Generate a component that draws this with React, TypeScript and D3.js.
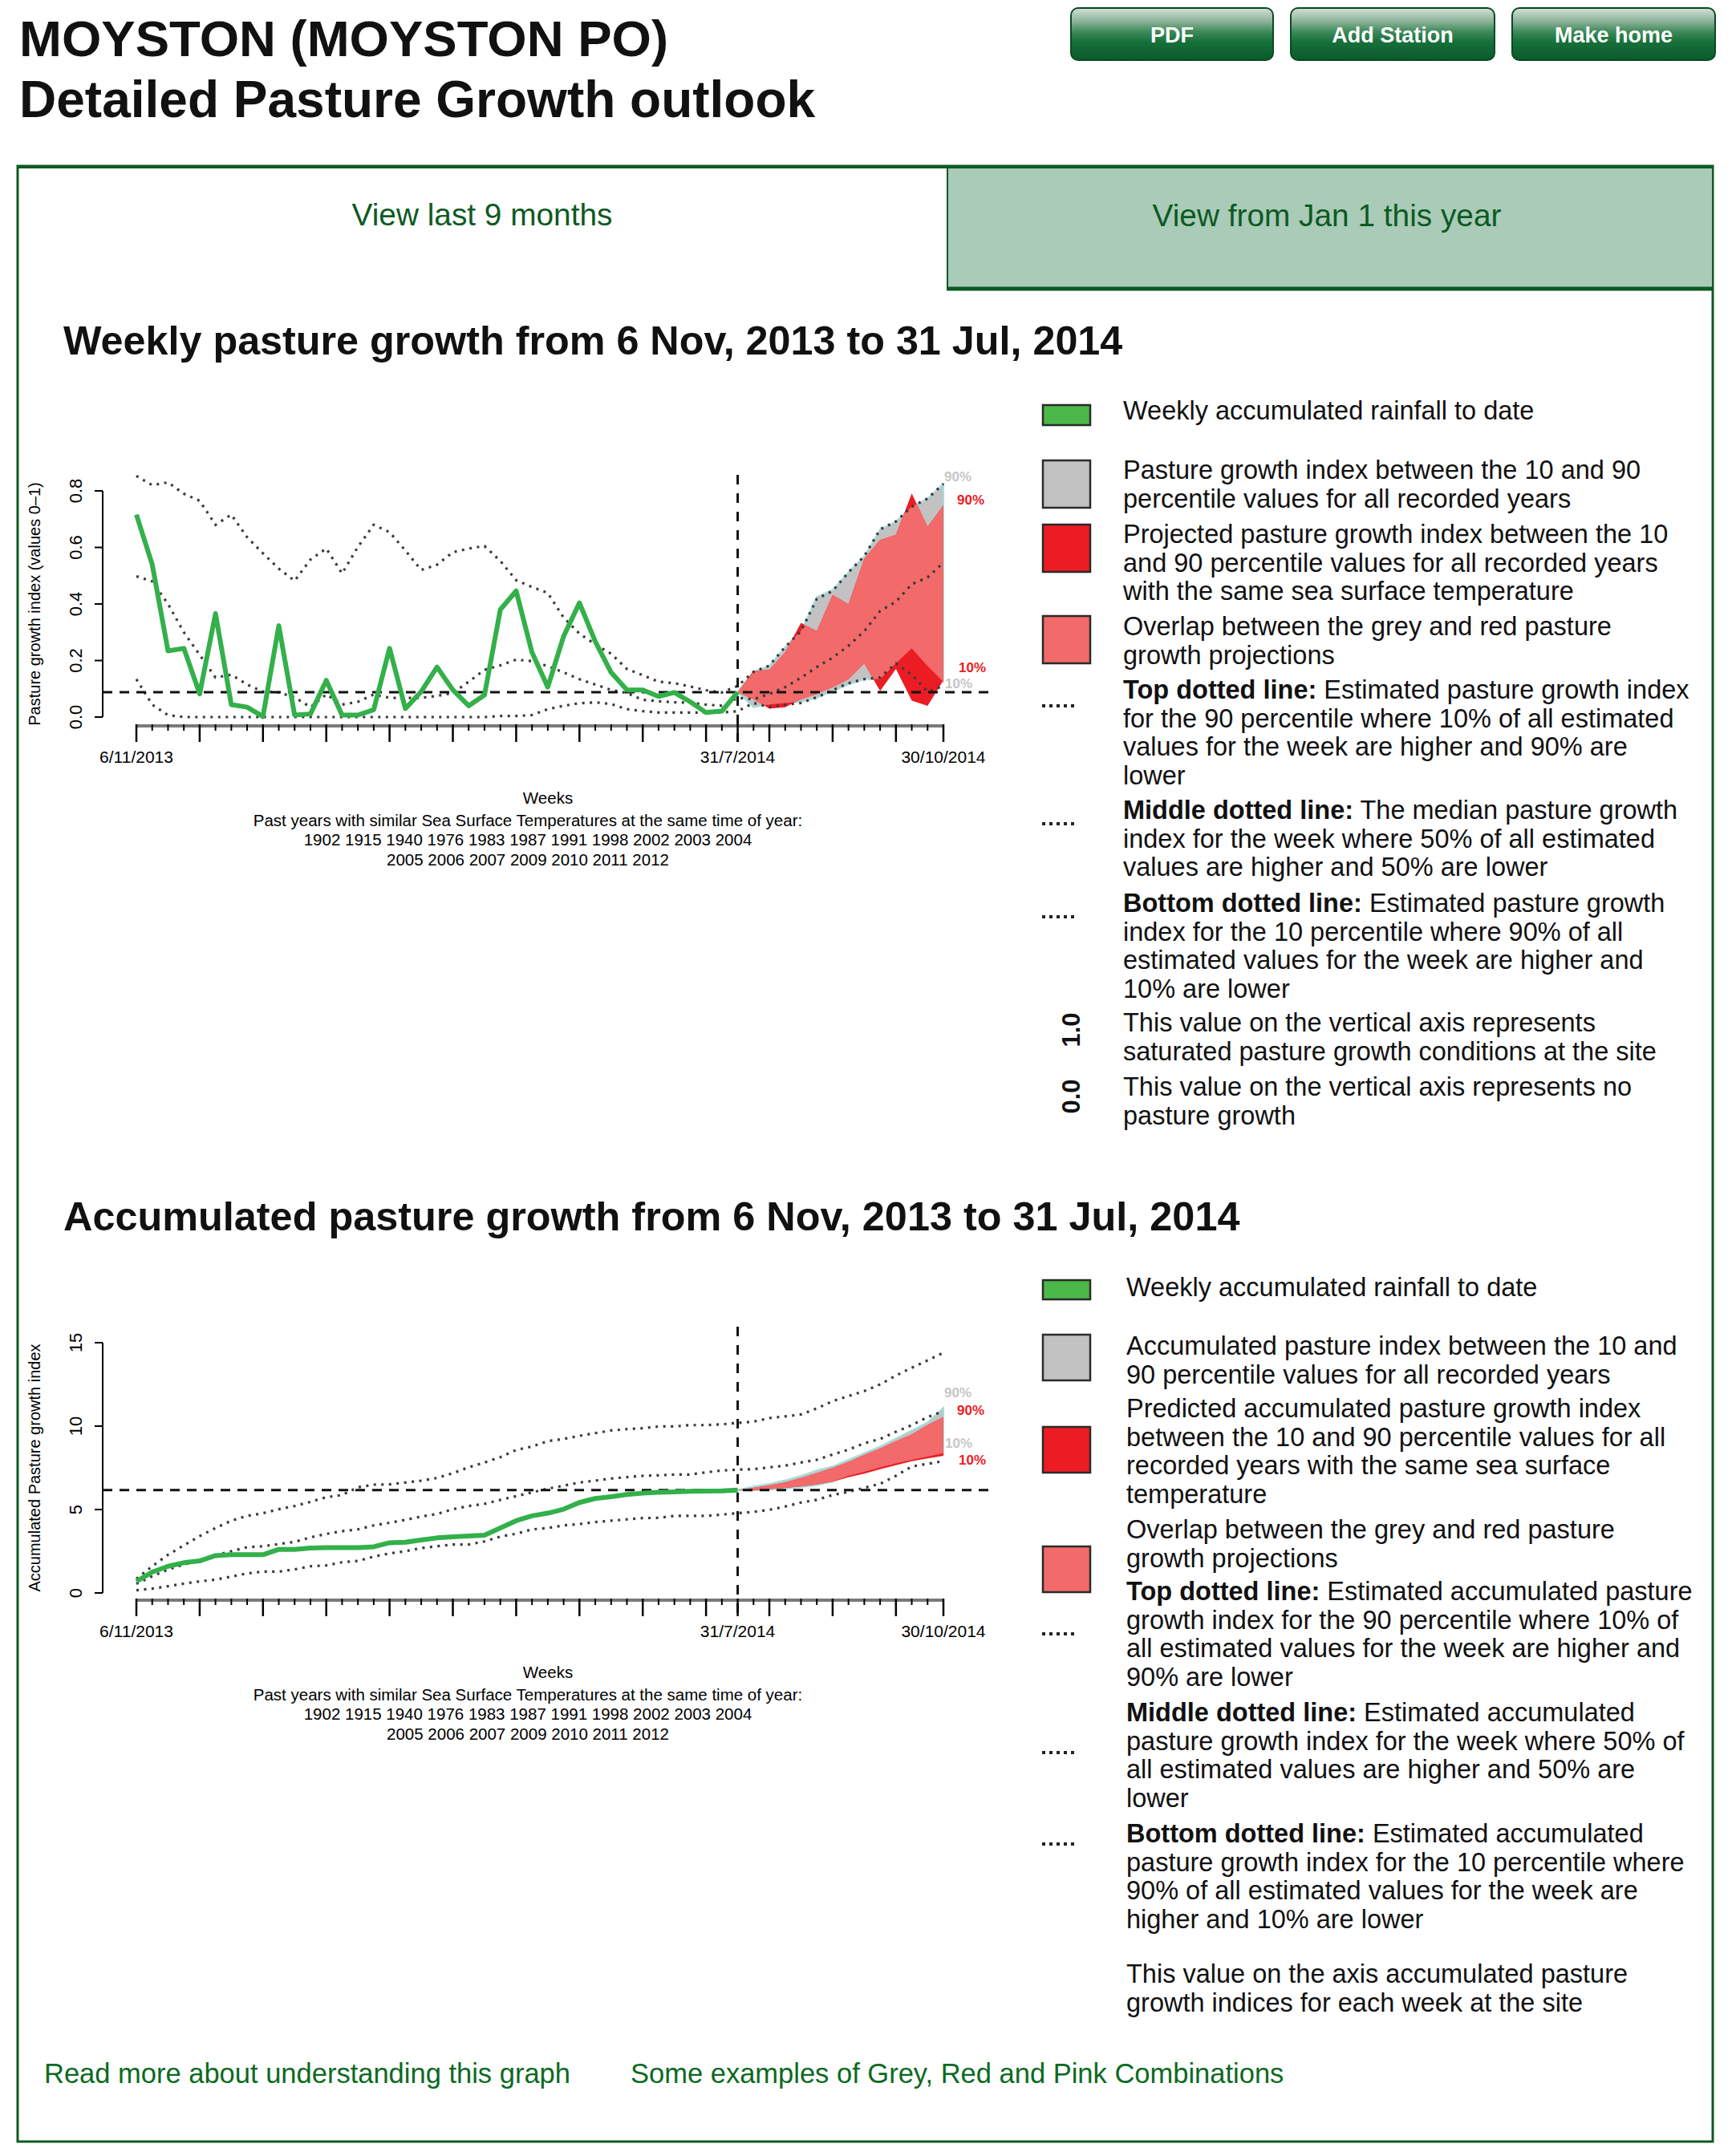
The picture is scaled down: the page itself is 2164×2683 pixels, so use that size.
import React from "react";
import * as d3 from "d3";

const FONT = "'Liberation Sans', Arial, Helvetica, sans-serif";

// x categories: week 0 = 6/11/2013, week 38 = 31/7/2014, week 51 = 30/10/2014
const dateTicks = [
  { week: 0, label: "6/11/2013" },
  { week: 38, label: "31/7/2014" },
  { week: 51, label: "30/10/2014" },
];
const lastWeek = 51;
const forecastStart = 38;

const sstYears1 = "1902 1915 1940 1976 1983 1987 1991 1998 2002 2003 2004";
const sstYears2 = "2005 2006 2007 2009 2010 2011 2012";

// ---- weekly pasture growth index (0-1) ----
const weeklyObserved = [
  0.716, 0.54, 0.234, 0.243, 0.082, 0.366, 0.044, 0.035, 0.002, 0.323,
  0.007, 0.011, 0.13, 0.007, 0.007, 0.026, 0.243, 0.03, 0.09, 0.177,
  0.096, 0.04, 0.078, 0.38, 0.446, 0.229, 0.106, 0.286, 0.404, 0.267,
  0.158, 0.096, 0.096, 0.073, 0.087, 0.054, 0.016, 0.021, 0.088,
];
const weeklyTop = [
  0.853, 0.82, 0.83, 0.79, 0.765, 0.68, 0.716, 0.636, 0.579, 0.525,
  0.482, 0.557, 0.596, 0.508, 0.602, 0.68, 0.654, 0.589, 0.52, 0.539,
  0.583, 0.596, 0.605, 0.552, 0.484, 0.46, 0.439, 0.352, 0.295, 0.257,
  0.224, 0.17, 0.148, 0.125, 0.12, 0.108, 0.095, 0.087, 0.11,
  0.16, 0.182, 0.248, 0.304, 0.418, 0.446, 0.512, 0.569, 0.664, 0.692, 0.744, 0.773, 0.825,
];
const weeklyMedian = [
  0.498, 0.48, 0.4, 0.3, 0.22, 0.14, 0.15, 0.115, 0.09, 0.087,
  0.07, 0.035, 0.08, 0.044, 0.054, 0.08, 0.068, 0.068, 0.068, 0.075,
  0.085, 0.125, 0.167, 0.183, 0.203, 0.198, 0.18, 0.158, 0.134, 0.115,
  0.096, 0.085, 0.061, 0.056, 0.052, 0.051, 0.044, 0.04, 0.068,
  0.063, 0.082, 0.106, 0.139, 0.177, 0.21, 0.252, 0.304, 0.375, 0.408, 0.47, 0.494, 0.546,
];
const weeklyBottom = [
  0.134, 0.044, 0.007, 0, 0, 0, 0, 0, 0, 0,
  0, 0, 0, 0, 0, 0, 0, 0, 0, 0,
  0, 0, 0, 0.004, 0.004, 0.007, 0.028, 0.04, 0.049, 0.052,
  0.046, 0.028, 0.021, 0.016, 0.016, 0.016, 0.016, 0.016, 0.021,
  0.05, 0.035, 0.044, 0.05, 0.07, 0.095, 0.12, 0.134, 0.14, 0.19, 0.15, 0.09, 0.11,
];
// projections, weeks 38..51
const weeklyGreyHi = [0.088, 0.16, 0.182, 0.248, 0.304, 0.425, 0.45, 0.512, 0.569, 0.664, 0.692, 0.744, 0.773, 0.825];
const weeklyGreyLo = [0.088, 0.035, 0.045, 0.05, 0.054, 0.068, 0.092, 0.115, 0.134, 0.134, 0.19, 0.243, 0.18, 0.125];
const weeklyRedHi = [0.088, 0.163, 0.167, 0.229, 0.333, 0.304, 0.432, 0.399, 0.56, 0.626, 0.645, 0.791, 0.673, 0.749];
const weeklyRedLo = [0.088, 0.063, 0.03, 0.035, 0.063, 0.082, 0.106, 0.134, 0.19, 0.092, 0.17, 0.058, 0.04, 0.13];

// ---- accumulated pasture growth index ----
const accumObserved = [
  0.69, 1.25, 1.6, 1.81, 1.92, 2.24, 2.29, 2.29, 2.29, 2.61,
  2.61, 2.69, 2.72, 2.72, 2.72, 2.77, 3.01, 3.04, 3.17, 3.3,
  3.37, 3.41, 3.46, 3.89, 4.33, 4.62, 4.78, 5.02, 5.42, 5.66,
  5.77, 5.9, 5.98, 6.03, 6.06, 6.09, 6.1, 6.12, 6.17,
];
const accumTop = [
  0.85, 1.6, 2.29, 2.85, 3.41, 3.89, 4.33, 4.62, 4.78, 5.02,
  5.21, 5.46, 5.74, 5.87, 6.33, 6.49, 6.51, 6.62, 6.73, 6.89,
  7.18, 7.53, 7.82, 8.14, 8.57, 8.78, 9.1, 9.23, 9.42, 9.58,
  9.74, 9.82, 9.87, 9.98, 9.98, 10.06, 10.06, 10.11, 10.19,
  10.27, 10.48, 10.58, 10.7, 11.06, 11.5, 11.8, 12.1, 12.5, 13.03, 13.5, 13.94, 14.4,
];
const accumMedian = [
  0.55, 1.0, 1.4, 1.7, 1.97, 2.25, 2.5, 2.74, 2.8, 2.93,
  3.06, 3.33, 3.54, 3.7, 3.81, 4.05, 4.21, 4.38, 4.58, 4.73,
  5.02, 5.21, 5.34, 5.58, 5.8, 6.03, 6.25, 6.43, 6.62, 6.73,
  6.86, 6.94, 7.02, 7.05, 7.1, 7.1, 7.23, 7.34, 7.39,
  7.42, 7.53, 7.63, 7.82, 7.98, 8.3, 8.59, 8.97, 9.23, 9.66, 10.06, 10.54, 10.9,
];
const accumBottom = [
  0.16, 0.26, 0.4, 0.56, 0.69, 0.8, 0.98, 1.17, 1.28, 1.28,
  1.41, 1.6, 1.65, 1.84, 1.92, 2.18, 2.37, 2.5, 2.69, 2.8,
  2.9, 2.9, 3.09, 3.38, 3.55, 3.81, 3.89, 4.05, 4.13, 4.25,
  4.33, 4.41, 4.49, 4.5, 4.62, 4.62, 4.62, 4.7, 4.78,
  4.86, 4.98, 5.18, 5.42, 5.58, 5.87, 6.06, 6.3, 6.54, 7.02, 7.58, 7.74, 7.9,
];
const accumGreyHi = [6.17, 6.38, 6.54, 6.75, 7.02, 7.34, 7.58, 7.98, 8.38, 8.78, 9.26, 9.74, 10.22, 11.1];
const accumGreyLo = [6.17, 6.14, 6.19, 6.25, 6.35, 6.46, 6.67, 7.02, 7.26, 7.53, 7.77, 7.98, 8.17, 8.38];
const accumRedHi = [6.17, 6.3, 6.46, 6.62, 6.89, 7.18, 7.5, 7.85, 8.27, 8.65, 9.1, 9.5, 10.06, 10.54];
const accumRedLo = [6.17, 6.14, 6.22, 6.3, 6.38, 6.5, 6.67, 6.94, 7.15, 7.42, 7.66, 7.9, 8.06, 8.22];

const weeklyYTicks = [0, 0.2, 0.4, 0.6, 0.8];
const accumYTicks = [0, 5, 10, 15];

const GREEN = "#33b04a";
const GREY = "#c2c2c2";
const RED = "#ec1c24";
const PINK = "#f26a6a";
const DARK_GREEN = "#0d5a22";
const LINK_GREEN = "#0c6a1f";

const xScale = d3.scaleLinear().domain([0, lastWeek]).range([170, 1176]);

type ChartProps = {
  id: string;
  yTop: number;
  yBottom: number;
  yMax: number;
  axisY: number;
  yTicks: number[];
  fmt: (v: number) => string;
  yLabel: string;
  observed: number[];
  upper: number[];
  median: number[];
  lower: number[];
  greyHi: number[];
  greyLo: number[];
  redHi: number[];
  redLo: number[];
  labelVals: { g90: number; r90: number; r10: number; g10: number };
};

function Chart(p: ChartProps) {
  const y = d3.scaleLinear().domain([0, p.yMax]).range([p.yBottom, p.yTop]);
  const line = d3
    .line<number>()
    .x((_, i) => xScale(i))
    .y((d) => y(d));
  const band = (hi: number[], lo: number[]) =>
    d3
      .area<number>()
      .x((_, i) => xScale(forecastStart + i))
      .y0((_, i) => y(lo[i]))
      .y1((d) => y(d))(hi) || "";
  const greyPath = band(p.greyHi, p.greyLo);
  const redPath = band(p.redHi, p.redLo);
  const current = p.observed[p.observed.length - 1];
  const xEnd = xScale(lastWeek);
  const dotted = { fill: "none", stroke: "#3a3a3a", strokeWidth: 3.2, strokeDasharray: "3 6.5" };
  const weeks = d3.range(0, lastWeek + 1);
  const isLong = (w: number) => w % 4 === 0 || w === forecastStart || w === lastWeek;
  const yAxisX = 128;

  return (
    <g fontFamily={FONT}>
      <defs>
        <clipPath id={`${p.id}-grey`}>
          <path d={greyPath} />
        </clipPath>
      </defs>
      {/* projection bands */}
      <path d={greyPath} fill={GREY} stroke="#a6dede" strokeWidth={2} />
      <path d={redPath} fill={RED} />
      <path d={redPath} fill={PINK} clipPath={`url(#${p.id}-grey)`} />

      {/* percentile dotted lines */}
      <path d={line(p.upper) || ""} {...dotted} />
      <path d={line(p.median) || ""} {...dotted} />
      <path d={line(p.lower) || ""} {...dotted} />

      {/* reference dashed lines */}
      <line x1={yAxisX} x2={1240} y1={y(current)} y2={y(current)} stroke="#111" strokeWidth={3} strokeDasharray="12 9" />
      <line
        x1={xScale(forecastStart)}
        x2={xScale(forecastStart)}
        y1={p.yTop - 20}
        y2={p.axisY + 20}
        stroke="#111"
        strokeWidth={3}
        strokeDasharray="12 11"
      />

      {/* observed */}
      <path d={line(p.observed) || ""} fill="none" stroke={GREEN} strokeWidth={6} strokeLinejoin="round" />

      {/* band end labels */}
      <g fontSize={17} fontWeight="bold">
        <text x={xEnd + 1} y={y(p.labelVals.g90) + 6} fill="#c6c6c6">90%</text>
        <text x={xEnd + 17} y={y(p.labelVals.r90) + 6} fill={RED}>90%</text>
        <text x={xEnd + 19} y={y(p.labelVals.r10) + 6} fill={RED}>10%</text>
        <text x={xEnd + 2} y={y(p.labelVals.g10) + 6} fill="#c6c6c6">10%</text>
      </g>

      {/* y axis */}
      <line x1={yAxisX} x2={yAxisX} y1={y(0)} y2={y(p.yMax)} stroke="#000" strokeWidth={2} />
      {p.yTicks.map((t) => (
        <g key={t}>
          <line x1={yAxisX - 10} x2={yAxisX} y1={y(t)} y2={y(t)} stroke="#000" strokeWidth={2} />
          <text
            transform={`translate(102,${y(t)}) rotate(-90)`}
            textAnchor="middle"
            fontSize={22}
            fill="#000"
          >
            {p.fmt(t)}
          </text>
        </g>
      ))}
      <text transform={`translate(50,${(p.yTop + p.yBottom) / 2}) rotate(-90)`} textAnchor="middle" fontSize={20}>
        {p.yLabel}
      </text>

      {/* x axis */}
      <line x1={xScale(0)} x2={xEnd} y1={p.axisY} y2={p.axisY} stroke="#7a7a7a" strokeWidth={4} />
      {weeks.map((w) => (
        <line
          key={w}
          x1={xScale(w)}
          x2={xScale(w)}
          y1={p.axisY - 2}
          y2={p.axisY + (isLong(w) ? 20 : 6)}
          stroke="#000"
          strokeWidth={isLong(w) ? 2.5 : 2}
        />
      ))}
      {dateTicks.map((d) => (
        <text key={d.label} x={xScale(d.week)} y={p.axisY + 46} textAnchor="middle" fontSize={21}>
          {d.label}
        </text>
      ))}
      <g textAnchor="middle" fontSize={20.5}>
        <text x={683} y={p.axisY + 97}>Weeks</text>
        <text x={658} y={p.axisY + 125}>Past years with similar Sea Surface Temperatures at the same time of year:</text>
        <text x={658} y={p.axisY + 149}>{sstYears1}</text>
        <text x={658} y={p.axisY + 174}>{sstYears2}</text>
      </g>
    </g>
  );
}

type LegendItem = {
  kind: "swatch" | "dots" | "axis" | "none";
  fill?: string;
  sy?: number;
  sh?: number;
  axisText?: string;
  bold?: string;
  lines: string[];
  y0: number;
};

const LINE_H = 35.7;

function Legend({ x, items }: { x: number; items: LegendItem[] }) {
  return (
    <g fontFamily={FONT} fontSize={32.5} fill="#111">
      {items.map((it, k) => (
        <g key={k}>
          {it.kind === "swatch" && (
            <rect x={1300} y={it.sy} width={59} height={it.sh} fill={it.fill} stroke="#2a2a2a" strokeWidth={2.5} />
          )}
          {it.kind === "dots" && (
            <line x1={1299} x2={1342} y1={it.sy} y2={it.sy} stroke="#222" strokeWidth={4} strokeDasharray="4 5" />
          )}
          {it.kind === "axis" && (
            <text
              transform={`translate(1346,${it.sy}) rotate(-90)`}
              textAnchor="middle"
              fontWeight="bold"
              fontSize={31}
            >
              {it.axisText}
            </text>
          )}
          {it.lines.map((ln, i) => (
            <text key={i} x={x} y={it.y0 + i * LINE_H}>
              {i === 0 && it.bold ? <tspan fontWeight="bold">{it.bold}</tspan> : null}
              {ln}
            </text>
          ))}
        </g>
      ))}
    </g>
  );
}

const weeklyLegend: LegendItem[] = [
  { kind: "swatch", fill: "#4cb848", sy: 505, sh: 25, lines: ["Weekly accumulated rainfall to date"], y0: 523 },
  {
    kind: "swatch", fill: GREY, sy: 574, sh: 59, y0: 597,
    lines: ["Pasture growth index between the 10 and 90", "percentile values for all recorded years"],
  },
  {
    kind: "swatch", fill: RED, sy: 654, sh: 59, y0: 677,
    lines: [
      "Projected pasture growth index between the 10",
      "and 90 percentile values for all recorded years",
      "with the same sea surface temperature",
    ],
  },
  {
    kind: "swatch", fill: PINK, sy: 768, sh: 59, y0: 792,
    lines: ["Overlap between the grey and red pasture", "growth projections"],
  },
  {
    kind: "dots", sy: 880, y0: 871, bold: "Top dotted line:",
    lines: [
      " Estimated pasture growth index",
      "for the 90 percentile where 10% of all estimated",
      "values for the week are higher and 90% are",
      "lower",
    ],
  },
  {
    kind: "dots", sy: 1027, y0: 1021, bold: "Middle dotted line:",
    lines: [
      " The median pasture growth",
      "index for the week where 50% of all estimated",
      "values are higher and 50% are lower",
    ],
  },
  {
    kind: "dots", sy: 1143, y0: 1137, bold: "Bottom dotted line:",
    lines: [
      " Estimated pasture growth",
      "index for the 10 percentile where 90% of all",
      "estimated values for the week are higher and",
      "10% are lower",
    ],
  },
  {
    kind: "axis", axisText: "1.0", sy: 1284, y0: 1286,
    lines: ["This value on the vertical axis represents", "saturated pasture growth conditions at the site"],
  },
  {
    kind: "axis", axisText: "0.0", sy: 1367, y0: 1366,
    lines: ["This value on the vertical axis represents no", "pasture growth"],
  },
];

const accumLegend: LegendItem[] = [
  { kind: "swatch", fill: "#4cb848", sy: 1596, sh: 24, lines: ["Weekly accumulated rainfall to date"], y0: 1616 },
  {
    kind: "swatch", fill: GREY, sy: 1664, sh: 57, y0: 1689,
    lines: ["Accumulated pasture index between the 10 and", "90 percentile values for all recorded years"],
  },
  {
    kind: "swatch", fill: RED, sy: 1779, sh: 57, y0: 1767,
    lines: [
      "Predicted accumulated pasture growth index",
      "between the 10 and 90 percentile values for all",
      "recorded years with the same sea surface",
      "temperature",
    ],
  },
  {
    kind: "swatch", fill: PINK, sy: 1928, sh: 57, y0: 1918,
    lines: ["Overlap between the grey and red pasture", "growth projections"],
  },
  {
    kind: "dots", sy: 2037, y0: 1995, bold: "Top dotted line:",
    lines: [
      " Estimated accumulated pasture",
      "growth index for the 90 percentile where 10% of",
      "all estimated values for the week are higher and",
      "90% are lower",
    ],
  },
  {
    kind: "dots", sy: 2185, y0: 2146, bold: "Middle dotted line:",
    lines: [
      " Estimated accumulated",
      "pasture growth index for the week where 50% of",
      "all estimated values are higher and 50% are",
      "lower",
    ],
  },
  {
    kind: "dots", sy: 2299, y0: 2297, bold: "Bottom dotted line:",
    lines: [
      " Estimated accumulated",
      "pasture growth index for the 10 percentile where",
      "90% of all estimated values for the week are",
      "higher and 10% are lower",
    ],
  },
  {
    kind: "none", y0: 2472,
    lines: ["This value on the axis accumulated pasture", "growth indices for each week at the site"],
  },
];

const buttons = [
  { label: "PDF", x: 1335, w: 252 },
  { label: "Add Station", x: 1609, w: 254 },
  { label: "Make home", x: 1885, w: 253 },
];

export default function App() {
  return (
    <div>
      <style>{`body{margin:0}`}</style>
      <svg width={2164} height={2683} style={{ display: "block", background: "#fff" }} fontFamily={FONT}>
        <defs>
          <linearGradient id="btn" x1="0" y1="0" x2="0" y2="1">
            <stop offset="0%" stopColor="#d3e0d7" />
            <stop offset="25%" stopColor="#8fb39c" />
            <stop offset="45%" stopColor="#3f8a5a" />
            <stop offset="65%" stopColor="#16703a" />
            <stop offset="100%" stopColor="#0b5a2a" />
          </linearGradient>
        </defs>

        {/* header */}
        <text x={24} y={70} fontSize={63.5} fontWeight="bold" fill="#111">MOYSTON (MOYSTON PO)</text>
        <text x={24} y={146} fontSize={64} fontWeight="bold" fill="#111">Detailed Pasture Growth outlook</text>
        {buttons.map((b) => (
          <g key={b.label}>
            <rect x={b.x} y={10} width={b.w} height={65} rx={9} fill="url(#btn)" stroke="#0a4a22" strokeWidth={2} />
            <text x={b.x + b.w / 2} y={53} textAnchor="middle" fontSize={27} fontWeight="bold" fill="#fff">
              {b.label}
            </text>
          </g>
        ))}

        {/* outer box */}
        <rect x={22} y={207} width={2113} height={2463} fill="none" stroke={DARK_GREEN} strokeWidth={3} />
        <line x1={22} x2={1186} y1={208} y2={208} stroke={DARK_GREEN} strokeWidth={4} />
        <rect x={1180} y={207} width={954} height={154} fill="#a9cbb8" />
        <line x1={1180} x2={2134} y1={208} y2={208} stroke={DARK_GREEN} strokeWidth={4} />
        <line x1={1181} x2={1181} y1={207} y2={362} stroke={DARK_GREEN} strokeWidth={2} />
        <line x1={1180} x2={2134} y1={360} y2={360} stroke={DARK_GREEN} strokeWidth={5} />
        <text x={601} y={281} textAnchor="middle" fontSize={38.8} fill={DARK_GREEN}>View last 9 months</text>
        <text x={1654} y={282} textAnchor="middle" fontSize={38.8} fill={DARK_GREEN}>View from Jan 1 this year</text>

        {/* weekly chart */}
        <text x={79} y={442} fontSize={50.3} fontWeight="bold" fill="#111">
          Weekly pasture growth from 6 Nov, 2013 to 31 Jul, 2014
        </text>
        <Chart
          id="weekly"
          yTop={612}
          yBottom={894}
          yMax={0.8}
          axisY={905}
          yTicks={weeklyYTicks}
          fmt={(v) => v.toFixed(1)}
          yLabel="Pasture growth index (values 0–1)"
          observed={weeklyObserved}
          upper={weeklyTop}
          median={weeklyMedian}
          lower={weeklyBottom}
          greyHi={weeklyGreyHi}
          greyLo={weeklyGreyLo}
          redHi={weeklyRedHi}
          redLo={weeklyRedLo}
          labelVals={{ g90: 0.85, r90: 0.769, r10: 0.176, g10: 0.12 }}
        />
        <Legend x={1400} items={weeklyLegend} />

        {/* accumulated chart */}
        <text x={79} y={1534} fontSize={50.4} fontWeight="bold" fill="#111">
          Accumulated pasture growth from 6 Nov, 2013 to 31 Jul, 2014
        </text>
        <Chart
          id="accum"
          yTop={1674}
          yBottom={1986}
          yMax={15}
          axisY={1995}
          yTicks={accumYTicks}
          fmt={(v) => String(v)}
          yLabel="Accumulated Pasture growth index"
          observed={accumObserved}
          upper={accumTop}
          median={accumMedian}
          lower={accumBottom}
          greyHi={accumGreyHi}
          greyLo={accumGreyLo}
          redHi={accumRedHi}
          redLo={accumRedLo}
          labelVals={{ g90: 12.0, r90: 10.96, r10: 8.0, g10: 9.0 }}
        />
        <Legend x={1404} items={accumLegend} />

        {/* links */}
        <text x={55} y={2597} fontSize={34.5} fill={LINK_GREEN}>Read more about understanding this graph</text>
        <text x={786} y={2597} fontSize={34.5} fill={LINK_GREEN}>Some examples of Grey, Red and Pink Combinations</text>
      </svg>
    </div>
  );
}
